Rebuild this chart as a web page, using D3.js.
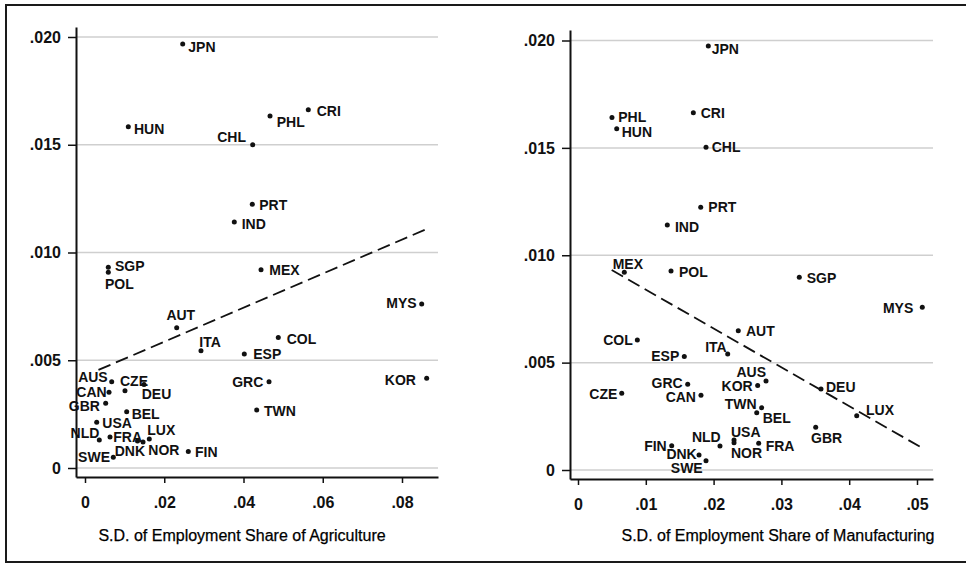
<!DOCTYPE html>
<html><head><meta charset="utf-8">
<script src="https://cdn.jsdelivr.net/npm/d3@7"></script>
<style>
html,body{margin:0;padding:0;background:#fff;}
svg{display:block;}
.lab{font-family:"Liberation Sans Narrow","Arial Narrow","Liberation Sans",sans-serif;font-weight:bold;font-size:14px;fill:#111;}
.tick text{font-family:"Liberation Sans",Arial,sans-serif;font-weight:bold;font-size:16px;fill:#111;}
.ttl{font-family:"Liberation Sans",Arial,sans-serif;font-size:16px;fill:#000;stroke:#000;stroke-width:0.25px;}
</style></head><body>
<script>
// ---------- data ----------
const yTicks = [0, 0.005, 0.010, 0.015, 0.020];
const agTicks = [0, 0.02, 0.04, 0.06, 0.08];
const mfTicks = [0, 0.01, 0.02, 0.03, 0.04, 0.05];
const agTitle = "S.D. of Employment Share of Agriculture";
const mfTitle = "S.D. of Employment Share of Manufacturing";

const agCountries = ["JPN","HUN","CHL","PHL","CRI","PRT","IND","SGP","POL","MEX","MYS","AUT","COL","ITA","ESP","KOR","GRC","AUS","CZE","DEU","CAN","GBR","BEL","USA","TWN","NLD","FRA","DNK","NOR","LUX","FIN","SWE"];
const agX = [0.02466,0.01093,0.04232,0.04669,0.05635,0.04222,0.03768,0.00588,0.00588,0.04442,0.08497,0.02314,0.04878,0.02927,0.04020,0.08623,0.04644,0.00674,0.01009,0.01489,0.00606,0.00522,0.01052,0.00295,0.04333,0.00361,0.00631,0.01325,0.01464,0.01623,0.02607,0.00714];
const agY = [0.01968,0.01584,0.01500,0.01633,0.01662,0.01224,0.01142,0.00931,0.00908,0.00920,0.00761,0.00651,0.00605,0.00544,0.00529,0.00416,0.00400,0.00400,0.00359,0.00388,0.00351,0.00300,0.00261,0.00212,0.00269,0.00130,0.00144,0.00125,0.00121,0.00135,0.00076,0.00050];
const agFitX = [0.0034, 0.0866];
const agFitY = [0.00455, 0.01112];

const mfCountries = ["JPN","PHL","HUN","CRI","CHL","PRT","IND","MEX","POL","SGP","MYS","AUT","COL","ITA","ESP","AUS","KOR","GRC","CZE","CAN","DEU","TWN","BEL","LUX","GBR","USA","NOR","FRA","NLD","FIN","DNK","SWE"];
const mfX = [0.01922,0.00501,0.00571,0.01701,0.01888,0.01810,0.01317,0.00683,0.01372,0.03264,0.05078,0.02364,0.00875,0.02208,0.01568,0.02773,0.02650,0.01618,0.00645,0.01814,0.03584,0.02709,0.02636,0.04111,0.03506,0.02301,0.02301,0.02665,0.02094,0.01382,0.01785,0.01888];
const mfY = [0.01974,0.01641,0.01589,0.01664,0.01503,0.01223,0.01141,0.00921,0.00927,0.00897,0.00758,0.00649,0.00605,0.00540,0.00528,0.00414,0.00393,0.00399,0.00357,0.00348,0.00377,0.00290,0.00267,0.00253,0.00199,0.00140,0.00127,0.00124,0.00112,0.00113,0.00070,0.00043];
const mfFitX = [0.00497, 0.05084];
const mfFitY = [0.00931, 0.00101];

// ---------- label placement (style, not data): [dx, dy, anchor] ----------
const agLab = {JPN:[5.6,2.7,"start"],HUN:[5.7,2.3,"start"],CHL:[-6.7,-7.4,"end"],PHL:[6.7,5.7,"start"],CRI:[8.4,0.7,"start"],PRT:[7,0.7,"start"],IND:[7.4,2,"start"],SGP:[6.7,-1.6,"start"],POL:[-3.3,12,"start"],MEX:[8.3,0.3,"start"],MYS:[-5,-0.7,"end"],AUT:[4.1,-12.7,"middle"],COL:[8.4,1.3,"start"],ITA:[-1.7,-9,"start"],ESP:[9,0,"start"],KOR:[-10.7,1.7,"end"],GRC:[-5.7,0,"end"],TWN:[7.3,0.7,"start"],FIN:[6.7,0.6,"start"],AUS:[-4,-5,"end"],CZE:[-5,-10,"start"],DEU:[-2.3,10,"start"],CAN:[-2.3,-0.6,"end"],GBR:[-5.7,2.4,"end"],BEL:[5,2.3,"start"],USA:[5.6,0.4,"start"],NLD:[0,-6.7,"end"],FRA:[3.3,-0.5,"start"],LUX:[-2,-8.8,"start"],NOR:[5.3,8.5,"start"],DNK:[7.5,10.3,"end"],SWE:[-3.3,0,"end"]};
const mfLab = {JPN:[3.4,3.3,"start"],PHL:[6.3,-0.4,"start"],HUN:[5,3,"start"],CRI:[7.4,0,"start"],CHL:[5.7,-0.6,"start"],PRT:[7.6,0,"start"],IND:[7.7,2.3,"start"],MEX:[-11.6,-8.3,"start"],POL:[8,1.3,"start"],SGP:[7.4,1,"start"],MYS:[-9,1,"end"],AUT:[7.7,0,"start"],COL:[-4.6,0,"end"],ITA:[-1,-6.7,"end"],ESP:[-5,-0.7,"end"],AUS:[0,-8.7,"end"],KOR:[-5,0,"end"],GRC:[-5,-1.8,"end"],CZE:[-4.4,0.7,"end"],CAN:[-5,1.5,"end"],DEU:[5,-2.3,"start"],TWN:[-5,-3.7,"end"],BEL:[6,5.6,"start"],LUX:[9.3,-5.7,"start"],GBR:[-4.7,11,"start"],USA:[-3,-7.7,"start"],NOR:[-3,10.6,"start"],FRA:[7,2.7,"start"],NLD:[0.7,-9.3,"end"],FIN:[-5,0.3,"end"],DNK:[-2.3,-0.8,"end"],SWE:[-3.3,7.6,"end"]};

const W = 966, H = 565;
const svg = d3.select("body").append("svg").attr("width", W).attr("height", H);

// outer frame
svg.append("rect").attr("x",6).attr("y",5).attr("width",968).attr("height",557)
  .attr("fill","none").attr("stroke","#1a1a1a").attr("stroke-width",2);

function fmt(v){ if (v===0) return "0"; return d3.format(".3f")(v).replace(/^0\./,"."); }
function fmtX(dec){ return v => v===0 ? "0" : d3.format("."+dec+"f")(v).replace(/^0\./,"."); }

function panel(cfg){
  const g = svg.append("g");
  const xs = d3.scaleLinear().domain([0, cfg.xAnchor]).range([cfg.x0, cfg.x1]);
  const ys = d3.scaleLinear().domain([0, 0.02]).range([cfg.y0, cfg.y1]);
  const x = d3.scaleLinear().domain([xs.invert(cfg.left), xs.invert(cfg.right)]).range([cfg.left, cfg.right]);
  const y = d3.scaleLinear().domain([ys.invert(cfg.bottom), ys.invert(cfg.top)]).range([cfg.bottom, cfg.top]);

  g.append("g").selectAll("line").data(yTicks).join("line")
    .attr("x1", cfg.left).attr("x2", cfg.right)
    .attr("y1", d=>y(d)).attr("y2", d=>y(d))
    .attr("stroke","#cfcfcf").attr("stroke-width",1.5);

  const ya = g.append("g").attr("transform",`translate(${cfg.left},0)`)
    .call(d3.axisLeft(y).tickValues(yTicks).tickFormat(fmt).tickSize(8).tickSizeOuter(0).tickPadding(7));
  const xa = g.append("g").attr("transform",`translate(0,${cfg.bottom})`)
    .call(d3.axisBottom(x).tickValues(cfg.xTicks).tickFormat(fmtX(cfg.dec)).tickSize(6).tickSizeOuter(0).tickPadding(14));
  [ya,xa].forEach(a=>{
    a.select(".domain").attr("stroke","#111").attr("stroke-width",2);
    a.selectAll(".tick line").attr("stroke","#111").attr("stroke-width",1.5);
  });

  const line = d3.line().x(d=>x(d[0])).y(d=>y(d[1]));
  g.append("path").datum(cfg.fitX.map((v,i)=>[v,cfg.fitY[i]]))
    .attr("d", line).attr("fill","none").attr("stroke","#111")
    .attr("stroke-width",1.8).attr("stroke-dasharray","13,6");

  const pts = cfg.names.map((n,i)=>({n, x:cfg.xs[i], y:cfg.ys[i]}));
  g.append("g").selectAll("circle").data(pts).join("circle")
    .attr("cx", d=>x(d.x)).attr("cy", d=>y(d.y)).attr("r",2.5).attr("fill","#111");
  g.append("g").selectAll("text").data(pts).join("text").attr("class","lab")
    .attr("x", d=>x(d.x)+cfg.lab[d.n][0]).attr("y", d=>y(d.y)+cfg.lab[d.n][1])
    .attr("dy","0.36em").attr("text-anchor", d=>cfg.lab[d.n][2]).text(d=>d.n);

  g.append("text").attr("class","ttl").attr("x", cfg.titleX).attr("y", 541)
    .attr("text-anchor","middle").text(cfg.title);
}

panel({names:agCountries, xs:agX, ys:agY, fitX:agFitX, fitY:agFitY, lab:agLab,
  xTicks:agTicks, dec:2, xAnchor:0.08, x0:85, x1:402, y0:468, y1:37,
  left:76, right:438, top:27, bottom:477, title:agTitle, titleX:242});
panel({names:mfCountries, xs:mfX, ys:mfY, fitX:mfFitX, fitY:mfFitY, lab:mfLab,
  xTicks:mfTicks, dec:2, xAnchor:0.05, x0:578, x1:917, y0:470, y1:40.5,
  left:570, right:933, top:30, bottom:479, title:mfTitle, titleX:778});
</script>
</body></html>
